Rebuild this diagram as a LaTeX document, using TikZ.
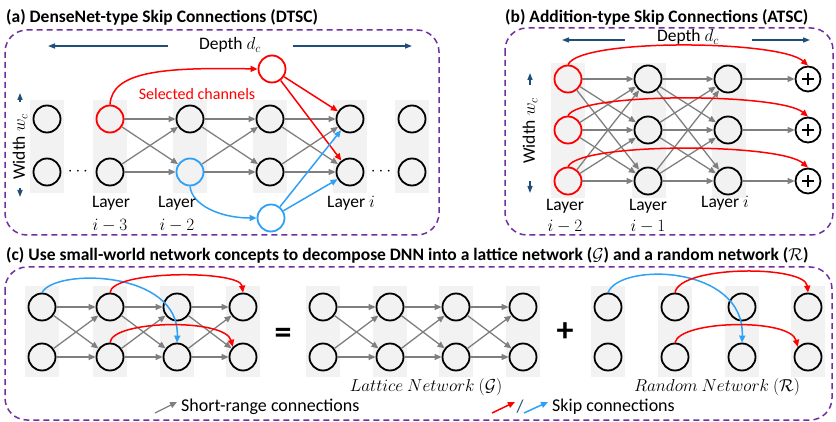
\documentclass[tikz,border=0pt]{standalone}
\usepackage{fontspec}
\setmainfont{Carlito}
\usetikzlibrary{arrows.meta}
\definecolor{cbg}{HTML}{F2F2F2}
\definecolor{cgr}{HTML}{7F7F7F}
\definecolor{cred}{HTML}{FF0000}
\definecolor{cblue}{HTML}{2EA0F5}
\definecolor{cpur}{HTML}{7030A0}
\definecolor{cnavy}{HTML}{1F4E79}
\tikzset{
 nd/.style={circle,draw=black,line width=1.8pt,minimum size=27pt,inner sep=0pt},
 rnd/.style={nd,draw=cred},
 bnd/.style={nd,draw=cblue},
 plusnd/.style={circle,draw=black,line width=1.8pt,minimum size=25pt,inner sep=0pt,
   path picture={\draw[line width=1.8pt] ([xshift=-6pt]path picture bounding box.center) -- ([xshift=6pt]path picture bounding box.center) ([yshift=-6pt]path picture bounding box.center) -- ([yshift=6pt]path picture bounding box.center);}},
 garr/.style={draw=cgr,line width=1.3pt,-{Triangle[length=7pt,width=6pt]}},
 rarr/.style={draw=cred,line width=1.5pt,-{Triangle[length=7pt,width=6pt]}},
 barr/.style={draw=cblue,line width=1.5pt,-{Triangle[length=7pt,width=6pt]}},
 narr/.style={draw=cnavy,line width=1.3pt,-{Triangle[length=7pt,width=5pt]}},
 pbox/.style={draw=cpur,dash pattern=on 6pt off 4pt,line width=1.5pt,rounded corners=22pt},
 ttl/.style={anchor=west,font=\fontsize{17.5}{20}\selectfont\bfseries,inner sep=0pt},
 lbl/.style={font=\fontsize{17.5}{20}\selectfont,inner sep=0pt},
 sellbl/.style={font=\fontsize{16}{19}\selectfont,inner sep=0pt},
 mlbl/.style={font=\fontsize{17.5}{20}\selectfont,inner sep=0pt},
 leg/.style={font=\fontsize{18}{21}\selectfont,inner sep=0pt,anchor=west},
 big/.style={font=\fontsize{34}{36}\selectfont\bfseries,inner sep=0pt},
}
\begin{document}
\begin{tikzpicture}[x=1pt,y=-1pt]
\useasboundingbox (0,0) rectangle (836,422);
% ================= (a) =================
\node[ttl] (ta) at (6,17) {(a) DenseNet-type Skip Connections (DTSC)};
\draw[pbox] (5,30) rectangle (439,235);
\foreach \x in {47,110,190,270,350,412} {\fill[cbg] (\x-17,100) rectangle (\x+17,193);}
\node[nd] (a0t) at (47,119) {}; \node[nd] (a0b) at (47,172) {};
\node[rnd] (a1t) at (110,119) {}; \node[nd] (a1b) at (110,172) {};
\node[nd] (a2t) at (190,119) {}; \node[bnd] (a2b) at (190,172) {};
\node[nd] (a3t) at (270,119) {}; \node[nd] (a3b) at (270,172) {};
\node[nd] (a4t) at (350,119) {}; \node[nd] (a4b) at (350,172) {};
\node[nd] (a5t) at (412,119) {}; \node[nd] (a5b) at (412,172) {};
\node[rnd] (aR) at (272,69) {};
\node[bnd] (aB) at (271,218) {};
\foreach \i/\j in {1/2,2/3,3/4} {
  \draw[garr] (a\i t) -- (a\j t);
  \draw[garr] (a\i t) -- (a\j b);
  \draw[garr] (a\i b) -- (a\j t);
  \draw[garr] (a\i b) -- (a\j b);
}
\draw[rarr] (a1t.north) .. controls (112,72) and (160,67) .. (aR.west);
\draw[rarr] (aR) -- (a4t);
\draw[rarr] (aR) -- (a4b);
\draw[barr] (a2b.south) .. controls (192,205) and (220,218) .. (aB.west);
\draw[barr] (aB) -- (a4t);
\draw[barr] (aB) -- (a4b);
\node[sellbl,text=cred] (sel) at (197,94) {Selected channels};
\node[lbl] (da1) at (78,172) {$\cdots$};
\node[lbl] (da2) at (381,172) {$\cdots$};
\node[lbl] (la1) at (111,203) {Layer};
\node[mlbl] (li1) at (110,226) {$i-3$};
\node[lbl] (la2) at (177,203) {Layer};
\node[mlbl] (li2) at (177,226) {$i-2$};
\node[lbl] (la4) at (351,203) {Layer $i$};
\node[lbl] (depa) at (230,45) {Depth $d_c$};
\coordinate (dal1) at (168,46); \coordinate (dal2) at (48,46);
\coordinate (dar1) at (293,46); \coordinate (dar2) at (412,46);
\draw[narr] (dal1) -- (dal2);
\draw[narr] (dar1) -- (dar2);
\node[lbl,rotate=90] (wida) at (20,147) {Width $w_c$};
\coordinate (wau1) at (20,102); \coordinate (wau2) at (20,93);
\coordinate (wad1) at (20,188); \coordinate (wad2) at (20,197);
\draw[narr] (wau1) -- (wau2);
\draw[narr] (wad1) -- (wad2);
% ================= (b) =================
\node[ttl] (tb) at (505,17) {(b) Addition-type Skip Connections (ATSC)};
\draw[pbox] (505,28) rectangle (833,235);
\foreach \x in {568,649,729} {\fill[cbg] (\x-17,63) rectangle (\x+17,198);}
\foreach \r/\y in {1/79,2/130,3/181} {
  \node[rnd] (b0\r) at (568,\y) {};
  \node[nd] (b1\r) at (648,\y) {};
  \node[nd] (b2\r) at (728,\y) {};
  \node[plusnd] (b3\r) at (808,\y) {};
}
\foreach \i/\j in {0/1,1/2} {
  \foreach \p in {1,2,3} {
    \foreach \q in {1,2,3} {\draw[garr] (b\i\p) -- (b\j\q);}
  }
}
\foreach \r in {1,2,3} {\draw[garr] (b2\r) -- (b3\r);}
\draw[rarr] (b01.north) .. controls (580,38) and (780,40) .. (b31.north);
\draw[rarr] (b02.north) .. controls (580,92) and (780,93) .. (b32.north);
\draw[rarr] (b03.north) .. controls (580,142) and (780,143) .. (b33.north);
\node[lbl] (depb) at (688,37) {Depth $d_c$};
\coordinate (dbl1) at (625,40); \coordinate (dbl2) at (562,40);
\coordinate (dbr1) at (752,40); \coordinate (dbr2) at (810,40);
\draw[narr] (dbl1) -- (dbl2);
\draw[narr] (dbr1) -- (dbr2);
\node[lbl,rotate=90] (widb) at (530,131) {Width $w_c$};
\coordinate (wbu1) at (530,85); \coordinate (wbu2) at (530,73);
\coordinate (wbd1) at (530,181); \coordinate (wbd2) at (530,193);
\draw[narr] (wbu1) -- (wbu2);
\draw[narr] (wbd1) -- (wbd2);
\node[lbl] (lb0) at (565,206) {Layer};
\node[mlbl] (lbi0) at (565,227) {$i-2$};
\node[lbl] (lb1) at (648,206) {Layer};
\node[mlbl] (lbi1) at (648,227) {$i-1$};
\node[lbl] (lb2) at (725,203) {Layer $i$};
% ================= (c) =================
\node[ttl] (tc) at (6,255) {(c) Use small-world network concepts to decompose DNN into a lattice network ($\mathcal{G}$) and a random network ($\mathcal{R}$)};
\draw[pbox] (5,267) rectangle (832,420);
\foreach \k/\x in {0/42,1/110,2/177,3/243} {
  \fill[cbg] (\x-17,286) rectangle (\x+17,377);
  \node[nd] (ct\k) at (\x,307) {};
  \node[nd] (cb\k) at (\x,357) {};
}
\foreach \k/\x in {0/323,1/390,2/456,3/523} {
  \fill[cbg] (\x-17,286) rectangle (\x+17,377);
  \node[nd] (lt\k) at (\x,307) {};
  \node[nd] (lb\k) at (\x,357) {};
}
\foreach \k/\x in {0/608,1/675,2/742,3/808} {
  \fill[cbg] (\x-17,286) rectangle (\x+17,377);
  \node[nd] (rt\k) at (\x,307) {};
  \node[nd] (rb\k) at (\x,357) {};
}
\foreach \i/\j in {0/1,1/2,2/3} {
  \draw[garr] (ct\i) -- (ct\j); \draw[garr] (ct\i) -- (cb\j);
  \draw[garr] (cb\i) -- (ct\j); \draw[garr] (cb\i) -- (cb\j);
  \draw[garr] (lt\i) -- (lt\j); \draw[garr] (lt\i) -- (lb\j);
  \draw[garr] (lb\i) -- (lt\j); \draw[garr] (lb\i) -- (lb\j);
}
\draw[barr] (ct0.north) .. controls (55,268) and (180,270) .. (cb2.north);
\draw[rarr] (ct1.north) .. controls (112,270) and (240,270) .. (ct3.north);
\draw[rarr] (cb1.north) .. controls (112,320) and (225,318) .. (cb3.north west);
\draw[barr] (rt0.north) .. controls (620,262) and (745,265) .. (rb2.north);
\draw[rarr] (rt1.north) .. controls (680,265) and (805,265) .. (rt3.north);
\draw[rarr] (rb1.north) .. controls (680,320) and (790,318) .. (rb3.north west);
\node[big] (eq) at (283,336) {=};
\node[big] (pl) at (565,332) {+};
\node[mlbl] (latl) at (426,387) {$Lattice\ Network\ (\mathcal{G})$};
\node[mlbl] (ranl) at (717,387) {$Random\ Network\ (\mathcal{R})$};
\coordinate (lg1) at (155,413); \coordinate (lg2) at (177,402);
\draw[garr] (lg1) -- (lg2);
\node[leg] (lgt) at (181,407) {Short-range connections};
\coordinate (lr1) at (492,413); \coordinate (lr2) at (515,402);
\draw[rarr] (lr1) -- (lr2);
\node[leg,anchor=center,text=cnavy] (sl) at (520,407) {/};
\coordinate (lbb1) at (524,413); \coordinate (lbb2) at (548,402);
\draw[barr] (lbb1) -- (lbb2);
\node[leg] (lst) at (552,407) {Skip connections};
\end{tikzpicture}
\end{document}
